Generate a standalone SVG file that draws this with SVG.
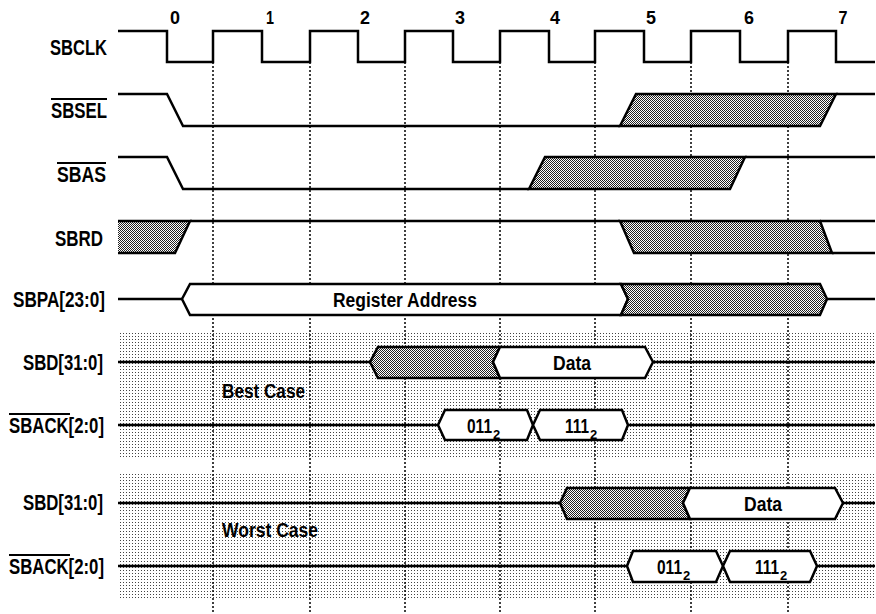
<svg xmlns="http://www.w3.org/2000/svg" width="876" height="614" viewBox="0 0 876 614">
<defs>
<pattern id="lt" width="3" height="3" patternUnits="userSpaceOnUse"><rect width="3" height="3" fill="#fff"/><rect width="1" height="1" fill="#444"/></pattern>
<pattern id="dk" width="2" height="2" patternUnits="userSpaceOnUse"><rect width="2" height="2" fill="#fff"/><rect width="1" height="1" fill="#222"/><rect x="1" y="1" width="1" height="1" fill="#222"/></pattern>
<style>
.w{fill:none;stroke:#000;stroke-width:2.5;stroke-linejoin:miter}
.d{fill:url(#dk);stroke:#000;stroke-width:2.5}
.b{fill:#fff;stroke:#000;stroke-width:2.5}
.g{stroke:#000;stroke-width:1.5;stroke-dasharray:2 2}
.o{stroke:#000;stroke-width:2}
text{font-family:"Liberation Sans",Arial,sans-serif;font-weight:bold;fill:#000}
.lab{font-size:22px}
.num{font-size:19px;text-anchor:middle}
.in{font-size:20px}
.sub{font-size:13px}
</style>
</defs>
<rect width="876" height="614" fill="#fff"/>
<g id="bands">
<rect x="118" y="332" width="757" height="125" fill="url(#lt)"/>
<rect x="118" y="472" width="757" height="126" fill="url(#lt)"/>
</g>
<g id="gridlines">
<line class="g" x1="213" y1="62" x2="213" y2="612"/>
<line class="g" x1="310" y1="62" x2="310" y2="612"/>
<line class="g" x1="405" y1="62" x2="405" y2="612"/>
<line class="g" x1="500" y1="62" x2="500" y2="612"/>
<line class="g" x1="595" y1="62" x2="595" y2="612"/>
<line class="g" x1="691" y1="62" x2="691" y2="612"/>
<line class="g" x1="788" y1="62" x2="788" y2="612"/>
</g>
<g id="cycles">
<text class="num" x="175" y="24" textLength="10" lengthAdjust="spacingAndGlyphs">0</text>
<text class="num" x="270" y="24" textLength="8" lengthAdjust="spacingAndGlyphs">1</text>
<text class="num" x="365" y="24" textLength="10" lengthAdjust="spacingAndGlyphs">2</text>
<text class="num" x="460" y="24" textLength="10" lengthAdjust="spacingAndGlyphs">3</text>
<text class="num" x="555" y="24" textLength="10" lengthAdjust="spacingAndGlyphs">4</text>
<text class="num" x="651" y="24" textLength="10" lengthAdjust="spacingAndGlyphs">5</text>
<text class="num" x="749" y="24" textLength="10" lengthAdjust="spacingAndGlyphs">6</text>
<text class="num" x="843" y="24" textLength="9" lengthAdjust="spacingAndGlyphs">7</text>
</g>
<g id="sbclk">
<text class="lab" x="50" y="55" textLength="57" lengthAdjust="spacingAndGlyphs">SBCLK</text>
<path class="w" d="M118,31 H167 V62 H213 V31 H262 V62 H310 V31 H358 V62 H405 V31 H453 V62 H500 V31 H549 V62 H595 V31 H644 V62 H691 V31 H740 V62 H788 V31 H836 V62 H875"/>
</g>
<g id="sbsel">
<text class="lab" x="51" y="118" textLength="56" lengthAdjust="spacingAndGlyphs">SBSEL</text>
<line class="o" x1="51" y1="99" x2="107" y2="99"/>
<path class="w" d="M118,94 H167 L183,126 H620"/>
<polygon class="d" points="620,126 636,94 836,94 820,126"/>
<line class="w" x1="836" y1="94" x2="875" y2="94"/>
</g>
<g id="sbas">
<text class="lab" x="57" y="182" textLength="49" lengthAdjust="spacingAndGlyphs">SBAS</text>
<line class="o" x1="57" y1="163" x2="106" y2="163"/>
<path class="w" d="M118,157 H167 L183,189 H529"/>
<polygon class="d" points="529,189 545,157 745,157 730,189"/>
<line class="w" x1="745" y1="157" x2="875" y2="157"/>
</g>
<g id="sbrd">
<text class="lab" x="55" y="246" textLength="48" lengthAdjust="spacingAndGlyphs">SBRD</text>
<path class="d" d="M118,221 H190 L175,253 H118"/>
<line class="w" x1="190" y1="221" x2="620" y2="221"/>
<polygon class="d" points="620,221 820,221 832,253 634,253"/>
<line class="w" x1="820" y1="221" x2="875" y2="221"/>
<line class="w" x1="832" y1="253" x2="875" y2="253"/>
</g>
<g id="sbpa">
<text class="lab" x="13" y="307" textLength="92" lengthAdjust="spacingAndGlyphs">SBPA[23:0]</text>
<line class="w" x1="118" y1="299" x2="182" y2="299"/>
<polygon class="b" points="182,299 190,284 621,284 628,299 621,315 190,315"/>
<polygon class="d" points="621,284 820,284 827,299 820,315 621,315 628,299"/>
<line class="w" x1="827" y1="299" x2="875" y2="299"/>
<text class="in" x="333" y="307" textLength="144" lengthAdjust="spacingAndGlyphs">Register Address</text>
</g>
<g id="sbd-best">
<text class="lab" x="23" y="370" textLength="80" lengthAdjust="spacingAndGlyphs">SBD[31:0]</text>
<line class="w" x1="118" y1="362" x2="370" y2="362"/>
<polygon class="d" points="370,362 378,347 500,347 493,362 500,378 378,378"/>
<polygon class="b" points="500,347 645,347 653,362 645,378 500,378 493,362"/>
<line class="w" x1="653" y1="362" x2="875" y2="362"/>
<text class="in" x="553" y="370" textLength="38" lengthAdjust="spacingAndGlyphs">Data</text>
<text class="in" x="222" y="398" textLength="83" lengthAdjust="spacingAndGlyphs">Best Case</text>
</g>
<g id="sback-best">
<text class="lab" x="9" y="433" textLength="95" lengthAdjust="spacingAndGlyphs">SBACK[2:0]</text>
<line class="o" x1="9" y1="414" x2="70" y2="414"/>
<line class="w" x1="118" y1="425" x2="438" y2="425"/>
<polygon class="b" points="438,425 445,410 527,410 533,425 527,440 445,440"/>
<polygon class="b" points="533,425 540,410 622,410 628,425 622,440 540,440"/>
<line class="w" x1="628" y1="425" x2="875" y2="425"/>
<text class="in" x="467" y="433"><tspan textLength="25" lengthAdjust="spacingAndGlyphs">011</tspan><tspan class="sub" dx="1" dy="6">2</tspan></text>
<text class="in" x="565" y="433"><tspan textLength="24" lengthAdjust="spacingAndGlyphs">111</tspan><tspan class="sub" dx="1" dy="6">2</tspan></text>
</g>
<g id="sbd-worst">
<text class="lab" x="23" y="510" textLength="80" lengthAdjust="spacingAndGlyphs">SBD[31:0]</text>
<line class="w" x1="118" y1="503" x2="560" y2="503"/>
<polygon class="d" points="560,503 567,488 690,488 683,503 690,519 567,519"/>
<polygon class="b" points="690,488 835,488 843,503 835,519 690,519 683,503"/>
<line class="w" x1="843" y1="503" x2="875" y2="503"/>
<text class="in" x="744" y="511" textLength="38" lengthAdjust="spacingAndGlyphs">Data</text>
<text class="in" x="222" y="537" textLength="96" lengthAdjust="spacingAndGlyphs">Worst Case</text>
</g>
<g id="sback-worst">
<text class="lab" x="9" y="574" textLength="95" lengthAdjust="spacingAndGlyphs">SBACK[2:0]</text>
<line class="o" x1="9" y1="555" x2="70" y2="555"/>
<line class="w" x1="118" y1="566" x2="627" y2="566"/>
<polygon class="b" points="627,566 633,551 716,551 723,566 716,582 633,582"/>
<polygon class="b" points="723,566 730,551 810,551 817,566 810,582 730,582"/>
<line class="w" x1="817" y1="566" x2="875" y2="566"/>
<text class="in" x="657" y="574"><tspan textLength="25" lengthAdjust="spacingAndGlyphs">011</tspan><tspan class="sub" dx="1" dy="6">2</tspan></text>
<text class="in" x="755" y="574"><tspan textLength="24" lengthAdjust="spacingAndGlyphs">111</tspan><tspan class="sub" dx="1" dy="6">2</tspan></text>
</g>
</svg>
